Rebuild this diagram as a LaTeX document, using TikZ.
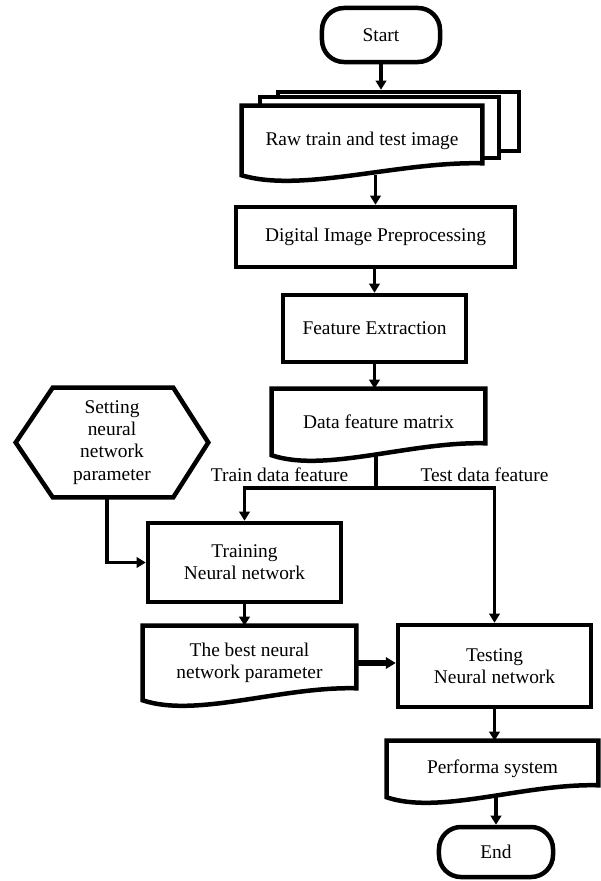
\documentclass[tikz,border=0pt]{standalone}
\usepackage{fontspec}
\setmainfont{Liberation Serif}
\usetikzlibrary{calc,arrows.meta,backgrounds}
\def\flowfont{\fontsize{13.8}{15.8}\selectfont}
\def\docshape(#1){\begin{scope}[on background layer]\draw[boxline, fill=white] (#1.south west) -- (#1.north west) -- (#1.north east) -- ($(#1.south east)+(0,-12)$) .. controls ($(#1.south)!0.3!(#1.south east)+(0,-14)$) and ($(#1.south)!0.5!(#1.south west)+(0,18)$) .. (#1.south west) -- cycle;\end{scope}}
\tikzset{
	boxline/.style={line width=3.2pt, line join=miter},
	procbox/.style={draw, boxline, rectangle, align=center, font=\flowfont},
	termbox/.style={draw, boxline, rectangle, rounded corners=0.55cm, align=center, font=\flowfont},
	docbox/.style={rectangle, align=center, font=\flowfont},
	pagebox/.style={draw, boxline, fill=white, rectangle},
	flow/.style={line width=2.4pt, -{Triangle[length=6.5pt, width=7.5pt]}},
	bigflow/.style={line width=3.6pt, -{Triangle[length=7pt, width=8pt]}},
	link/.style={line width=2.4pt},
}

\begin{document}
\begin{tikzpicture}[x=0.025cm, y=-0.025cm]
			%%%%% START %%%%%
			\useasboundingbox (0, 0) rectangle (600, 881);
			
			\node[termbox, minimum width=2.95cm, minimum height=1.35cm] (start) at (381, 35) {Start};
			
			\begin{scope}[on background layer]
			\node[pagebox, minimum width=6.025cm, minimum height=1.475cm] (rawback) at (398.5, 121.5) {};
			\node[pagebox, minimum width=5.975cm, minimum height=1.525cm] (rawmid) at (379.5, 127.5) {};
			\end{scope}
			\node[docbox, minimum width=6cm, minimum height=1.725cm] (raw) at (362, 140.5) {Raw train and test image};
			\docshape(raw)
			
			\node[procbox, minimum width=6.975cm, minimum height=1.5cm] (dip) at (375.5, 237) {Digital Image Preprocessing};
			\node[procbox, minimum width=4.575cm, minimum height=1.675cm] (feat) at (374.5, 328.5) {Feature Extraction};
			
			\node[docbox, minimum width=5.325cm, minimum height=1.65cm] (dfm) at (378.5, 422) {Data feature matrix};
			\docshape(dfm)
			
			\coordinate (junc) at (376, 488);
			\node[font=\flowfont] (trainlbl) at (279.5, 475) {Train data feature};
			\node[font=\flowfont] (testlbl) at (484.5, 475) {Test data feature};
			
			\node[docbox, minimum width=4.8cm, minimum height=2.725cm] (hex) at (112, 442.5) {Setting\\neural\\network\\parameter};
			\draw[boxline] (hex.west) -- ($(hex.north west)+(37, 0)$) -- ($(hex.north east)+(-35, 0)$) -- (hex.east) -- ($(hex.south east)+(-35, 0)$) -- ($(hex.south west)+(37, 0)$) -- cycle;
			
			\node[procbox, minimum width=4.825cm, minimum height=1.975cm] (train) at (244.5, 562.5) {Training\\Neural network};
			
			\node[docbox, minimum width=5.325cm, minimum height=1.85cm] (best) at (249.5, 663) {The best neural\\network parameter};
			\docshape(best)
			
			\node[procbox, minimum width=4.825cm, minimum height=2.05cm] (test) at (494.5, 666) {Testing\\Neural network};
			
			\node[docbox, minimum width=5.275cm, minimum height=1.4cm] (perf) at (492.5, 769) {Performa system};
			\docshape(perf)
			
			\node[termbox, minimum width=2.85cm, minimum height=1.25cm] (end) at (496, 852) {End};
			
			% connectors
			\draw[flow] (start.south) -- (start.south |- rawback.north);
			\draw[flow] (raw.south -| dip.north) -- (dip.north);
			\draw[flow] (dip.south -| feat.north) -- (feat.north);
			\draw[flow] (feat.south) -- (feat.south |- dfm.north);
			\draw[link] (dfm.south -| junc) -- (junc);
			\draw[flow] (junc) -| (train.north);
			\draw[flow] (junc) -| (test.north);
			\draw[flow] ($(hex.south)+(-5, 0)$) |- (train.west);
			\draw[flow] (train.south) -- (train.south |- best.north);
			\draw[bigflow] (best.east) -- (best.east -| test.west);
			\draw[flow] (test.south) -- (test.south |- perf.north);
			\draw[flow] (perf.south -| end.north) -- (end.north);
			
			%%%%% END %%%%%
		\end{tikzpicture}
\end{document}
